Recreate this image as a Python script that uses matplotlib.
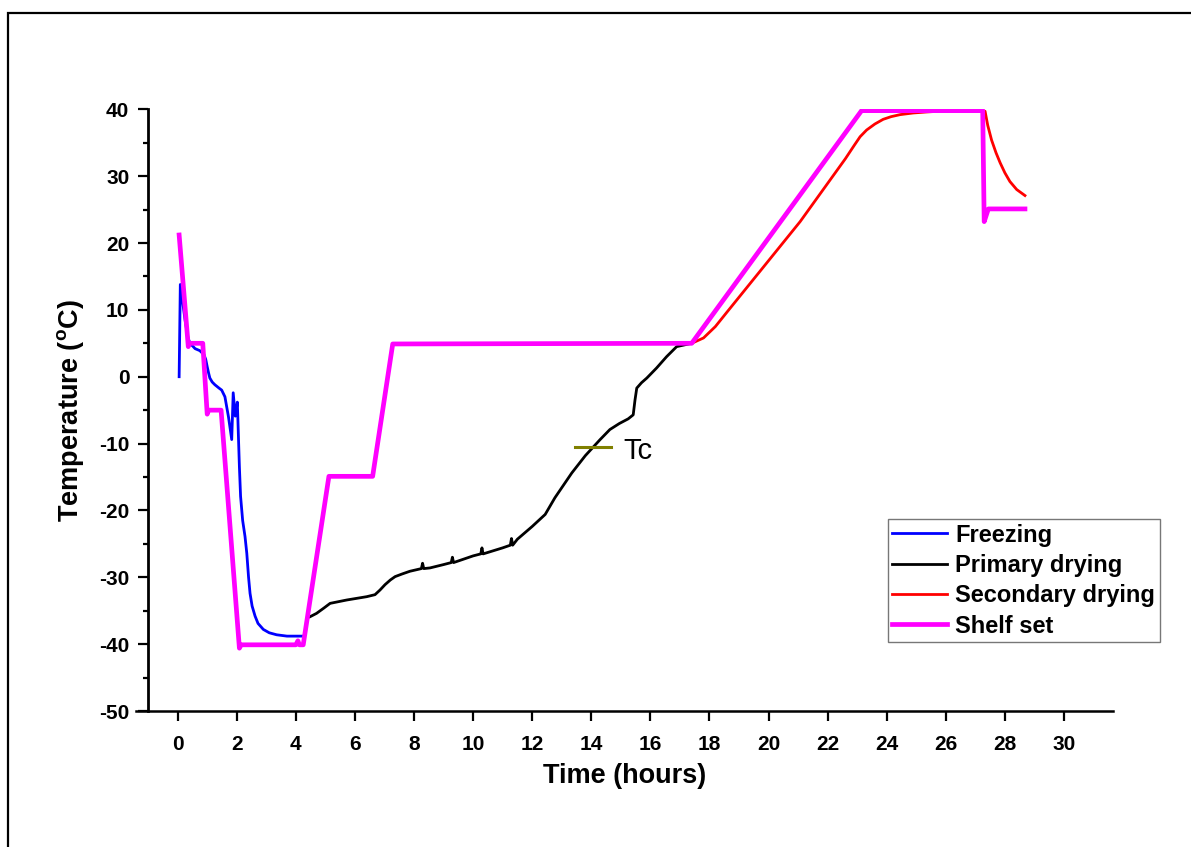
import matplotlib
matplotlib.use("Agg")
import matplotlib.pyplot as plt
from matplotlib.patches import Rectangle

plt.rcParams["font.family"] = ["Liberation Sans", "DejaVu Sans"]
plt.rcParams["mathtext.fontset"] = "custom"
plt.rcParams["mathtext.rm"] = "Liberation Sans:bold"
plt.rcParams["axes.unicode_minus"] = False

# Freezing (product temperature)
freeze_t = [0.05, 0.09, 0.25, 0.35, 0.42, 0.59, 0.75, 0.89, 0.95, 1.00, 1.05, 1.09, 1.17, 1.26,
            1.40, 1.49, 1.60, 1.72, 1.83, 1.88, 1.95, 2.02, 2.09, 2.13, 2.20, 2.28, 2.34, 2.40,
            2.45, 2.52, 2.62, 2.72, 2.90, 3.10, 3.35, 3.70, 4.20]
freeze_T = [0.0, 13.8, 8.5, 5.8, 5.0, 4.2, 3.9, 3.3, 2.6, 1.5, 0.5, -0.2, -0.8, -1.2,
            -1.7, -2.0, -3.0, -6.0, -9.4, -2.4, -5.9, -3.8, -13.5, -17.9, -21.5, -23.9, -26.4, -30.0,
            -32.4, -34.3, -35.8, -36.9, -37.8, -38.3, -38.6, -38.8, -38.8]

# Primary drying
primary_t = [4.48, 4.70, 4.95, 5.16, 5.72, 6.40, 6.68, 6.85, 7.02, 7.20, 7.36, 7.60, 7.86, 8.25, 8.29,
             8.33, 8.54, 9.00, 9.26, 9.30, 9.34, 10.00, 10.26, 10.30, 10.34, 11.00, 11.26, 11.30,
             11.34, 11.50, 12.00, 12.44, 12.77, 13.34, 13.80, 14.30, 14.63, 14.95, 15.25, 15.42,
             15.48, 15.54, 15.70, 15.88, 16.21, 16.55, 16.89, 17.40]
primary_T = [-35.9, -35.4, -34.6, -33.9, -33.4, -32.9, -32.6, -31.9, -31.1, -30.4, -29.9, -29.5, -29.1,
             -28.7, -27.9, -28.7, -28.6, -28.1, -27.8, -27.0, -27.8, -26.8, -26.5, -25.6, -26.5,
             -25.6, -25.2, -24.2, -25.2, -24.3, -22.4, -20.6, -18.1, -14.4, -11.8, -9.4, -7.9,
             -7.0, -6.3, -5.7, -3.5, -1.7, -0.9, -0.2, 1.3, 3.0, 4.5, 5.0]

# Secondary drying
secondary_t = [17.40, 17.80, 18.20, 18.60, 21.07, 22.60, 22.90, 23.10, 23.32, 23.60, 23.88, 24.15,
               24.45, 24.90, 25.35, 26.14, 27.25, 27.33, 27.42, 27.55, 27.70, 27.84, 28.00, 28.17,
               28.40, 28.68]
secondary_T = [5.0, 5.8, 7.5, 9.7, 23.2, 32.6, 34.6, 35.9, 36.9, 37.8, 38.5, 38.9,
               39.2, 39.45, 39.6, 39.8, 39.8, 39.7, 37.6, 35.4, 33.5, 32.0, 30.5, 29.2,
               28.0, 27.1]

# Shelf set point
shelf_t = [0.05, 0.36, 0.40, 0.85, 1.00, 1.05, 1.47, 2.09, 2.15, 4.00, 4.07, 4.12, 4.25,
           5.12, 6.60, 7.28, 17.40, 23.15, 27.25, 27.30, 27.44, 28.68]
shelf_T = [21.2, 4.5, 5.0, 5.0, -5.6, -5.0, -5.0, -40.6, -40.1, -40.1, -39.5, -40.1, -40.1,
           -14.9, -14.9, 4.9, 5.0, 39.8, 39.8, 23.2, 25.1, 25.1]

tc_t = [13.45, 14.67]
tc_T = [-10.5, -10.5]

fig = plt.figure(figsize=(11.91, 8.47), dpi=100)
ax = fig.add_axes([136 / 1191, 1 - 711 / 847, 977 / 1191, 601.7 / 847])

ax.plot(freeze_t, freeze_T, color="#0000ff", lw=2.0, label="Freezing")
ax.plot(primary_t, primary_T, color="black", lw=2.0, label="Primary drying")
ax.plot(secondary_t, secondary_T, color="#ff0000", lw=2.0, label="Secondary drying")
ax.plot(shelf_t, shelf_T, color="#ff00ff", lw=3.4, label="Shelf set")

ax.plot(tc_t, tc_T, color="#808000", lw=2.2)
ax.text(15.07, -11.1, "Tc", fontsize=21, va="center", ha="left")

ax.set_xlim(-1.41, 31.66)
ax.set_ylim(-50, 40)
ax.set_xticks(range(0, 31, 2))
ax.set_yticks(range(-50, 41, 10))
ax.set_yticks(range(-45, 40, 10), minor=True)

for side in ("top", "right"):
    ax.spines[side].set_visible(False)
ax.spines["left"].set_position(("data", -1.0))
ax.spines["left"].set_linewidth(2.0)
ax.spines["bottom"].set_linewidth(1.8)

ax.tick_params(axis="both", which="major", direction="out", length=7.5, width=1.6,
               labelsize=15)
ax.tick_params(axis="y", which="minor", direction="out", length=3.5, width=1.6)
ax.tick_params(axis="x", pad=10)
ax.tick_params(axis="y", pad=6)
for lab in ax.get_xticklabels() + ax.get_yticklabels():
    lab.set_fontweight("bold")

ax.set_xlabel("Time (hours)", fontsize=19.5, fontweight="bold", labelpad=6)
ax.set_ylabel(r"Temperature ($^{\rm o}$C)", fontsize=19.5, fontweight="bold", labelpad=9)

leg = ax.legend(loc="upper left", bbox_to_anchor=(0.7694, 0.3191), borderaxespad=0,
                prop={"weight": "bold", "size": 17}, frameon=True, fancybox=False,
                handlelength=2.3, handletextpad=0.35, labelspacing=0.31,
                borderpad=0.2)
leg.get_frame().set_edgecolor("#555555")
leg.get_frame().set_linewidth(1.0)

border = Rectangle((8.3 / 1191, -0.1), 1.2, 1.1 - 12.7 / 847,
                   transform=fig.transFigure, fill=False, edgecolor="black",
                   linewidth=1.6, clip_on=False)
fig.patches.append(border)

fig.savefig("out.png", dpi=100)
